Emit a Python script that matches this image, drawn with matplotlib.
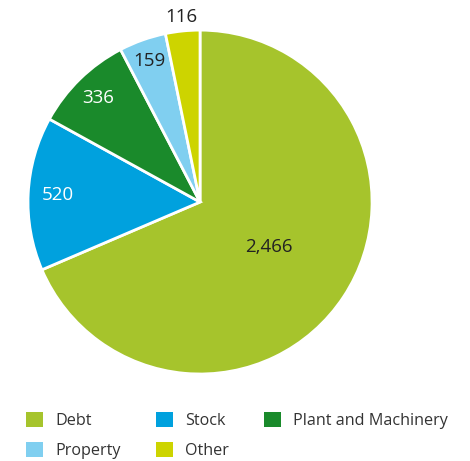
import numpy as np
import matplotlib.pyplot as plt
from matplotlib.patches import Patch

plt.rcParams['font.family'] = ['Open Sans', 'DejaVu Sans']

labels = ['Debt', 'Stock', 'Plant and Machinery', 'Property', 'Other']
values = [2466, 520, 336, 159, 116]
colors = ['#a6c42c', '#00a1de', '#1a8a2b', '#80cff0', '#cdd400']
text_colors = ['#222222', 'white', 'white', '#222222', '#222222']
label_r = [0.48, 0.83, 0.85, 0.87, 1.08]

fig = plt.figure(figsize=(4.70, 4.61), dpi=100)
ax = fig.add_axes([0.0596, 0.1887, 0.732, 0.746])

wedges, _ = ax.pie(values, colors=colors, startangle=90, counterclock=False,
                   wedgeprops=dict(edgecolor='white', linewidth=2))
ax.set_aspect('auto')
ax.set_xlim(-1, 1)
ax.set_ylim(-1, 1)

for w, v, tc, r in zip(wedges, values, text_colors, label_r):
    mid = np.radians((w.theta1 + w.theta2) / 2)
    ax.text(r * np.cos(mid), r * np.sin(mid), f'{v:,}', color=tc,
            fontsize=13.5, ha='center', va='center')

# legend fills column by column
order = [0, 3, 1, 4, 2]
handles = [Patch(facecolor=colors[i], label=labels[i]) for i in order]
fig.legend(handles=handles, ncol=3, loc='lower left',
           bbox_to_anchor=(0.045, -0.006), borderaxespad=0.0, borderpad=0.3,
           frameon=False, fontsize=11.6,
           handlelength=1.05, handleheight=1.05, handletextpad=0.75,
           columnspacing=2.2, labelspacing=0.82, labelcolor='#333333')

fig.savefig('out.png', dpi=100)
